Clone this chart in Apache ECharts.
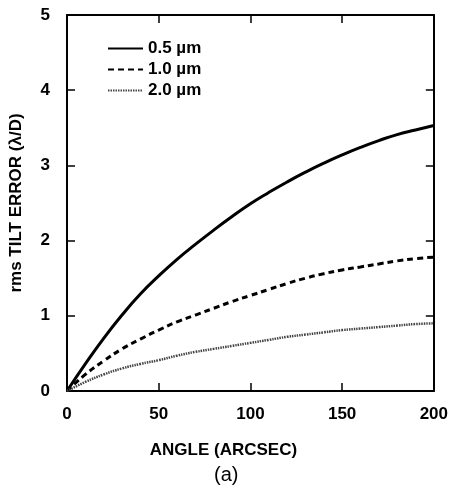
<!DOCTYPE html>
<html>
<head>
<meta charset="utf-8">
<script src="https://cdn.jsdelivr.net/npm/echarts@6/dist/echarts.min.js"></script>
<style>html,body{margin:0;padding:0;background:#fff}#c{width:451px;height:488px}</style>
</head>
<body>
<div id="c"></div>
<script>
const angles = [0,10,20,30,40,50,60,70,80,90,100,110,120,130,140,150,160,170,180,190,200];
const err05 = [0,0.36,0.70,1.01,1.29,1.53,1.75,1.95,2.14,2.32,2.49,2.64,2.78,2.91,3.03,3.14,3.24,3.33,3.41,3.47,3.53];
const err10 = [0,0.22,0.40,0.56,0.69,0.81,0.92,1.01,1.10,1.19,1.27,1.35,1.43,1.50,1.56,1.61,1.65,1.69,1.73,1.76,1.78];
const err20 = [0,0.12,0.22,0.30,0.36,0.41,0.47,0.52,0.56,0.60,0.64,0.68,0.72,0.75,0.78,0.81,0.83,0.85,0.87,0.89,0.90];
const seriesNames = ['0.5 µm','1.0 µm','2.0 µm'];
const xTicks = [0,50,100,150,200];
const yTicks = [0,1,2,3,4,5];

const pairs = arr => angles.map((a,i)=>[a,arr[i]]);
const font = 'Liberation Sans, Arial, Helvetica, sans-serif';
const chart = echarts.init(document.getElementById('c'));
const axisLine = {show:true, onZero:false, lineStyle:{color:'#000', width:2}};
const axisTick = {show:true, inside:true, length:8, lineStyle:{color:'#000', width:1.5}};
const lblStyle = {fontFamily:font, fontSize:17, fontWeight:'bold', color:'#000'};
chart.setOption({
  animation:false,
  backgroundColor:'#fff',
  grid:{left:67, right:14, top:15, bottom:97, containLabel:false},
  legend:{
    orient:'vertical', left:102, top:35, itemWidth:35, itemHeight:12, itemGap:4,
    itemStyle:{opacity:0},
    textStyle:{fontFamily:font, fontSize:17, fontWeight:'bold', color:'#000'},
    data:seriesNames
  },
  xAxis:[{
    type:'value', min:0, max:200, interval:50,
    axisLine, axisTick, splitLine:{show:false},
    axisLabel:Object.assign({margin:15}, lblStyle),
    name:'ANGLE (ARCSEC)', nameLocation:'middle', nameGap:51,
    nameTextStyle:Object.assign({padding:[0,54,0,0]}, lblStyle)
  },{
    type:'value', position:'top', min:0, max:200, interval:50,
    axisLine, axisTick, axisLabel:{show:false}, splitLine:{show:false}
  }],
  yAxis:[{
    type:'value', min:0, max:5, interval:1,
    axisLine, axisTick, splitLine:{show:false},
    axisLabel:Object.assign({margin:17}, lblStyle),
    name:'rms TILT ERROR (λ/D)', nameLocation:'middle', nameGap:42,
    nameTextStyle:lblStyle
  },{
    type:'value', position:'right', min:0, max:5, interval:1,
    axisLine, axisTick, axisLabel:{show:false}, splitLine:{show:false}
  }],
  graphic:[{
    type:'text', left:214, top:465,
    style:{text:'(a)', fontFamily:font, fontSize:20, fill:'#000'}
  }],
  series:[
    {name:seriesNames[0], type:'line', data:pairs(err05), smooth:true, symbol:'none',
     lineStyle:{color:'#000', width:3}, itemStyle:{color:'#000'}},
    {name:seriesNames[1], type:'line', data:pairs(err10), smooth:true, symbol:'none',
     lineStyle:{color:'#000', width:3, type:[6,4]}, itemStyle:{color:'#000'}},
    {name:seriesNames[2], type:'line', data:pairs(err20), smooth:true, symbol:'none',
     lineStyle:{color:'#444', width:2.5, type:[1.5,1]}, itemStyle:{color:'#444'}}
  ]
});
</script>
</body>
</html>
